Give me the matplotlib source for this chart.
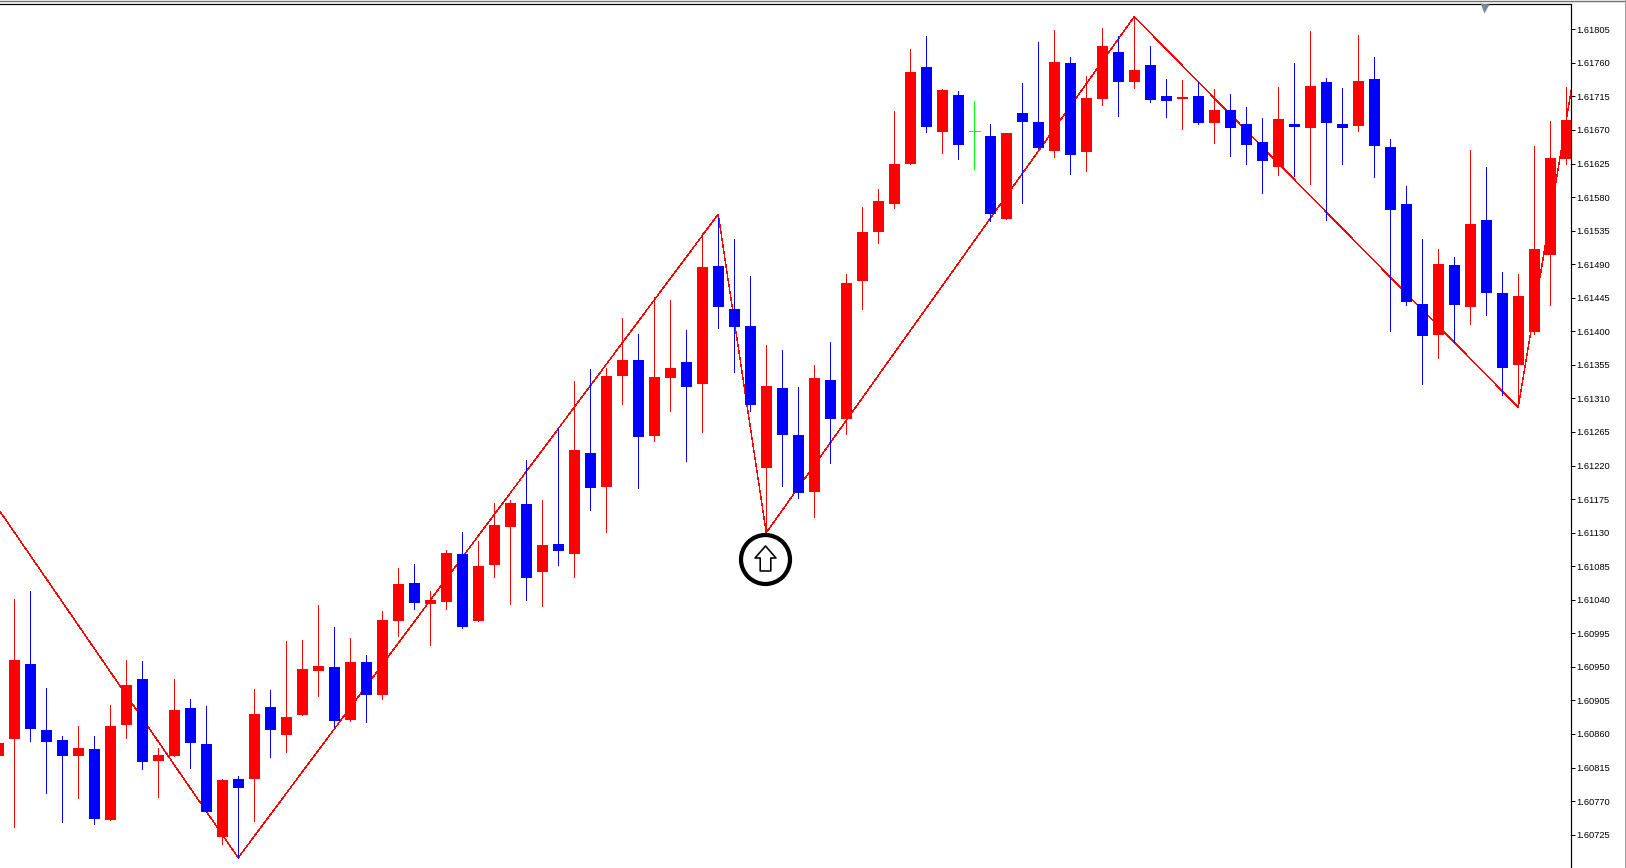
"""Biểu đồ nến kèm đường zigzag, giá đọc từ ảnh gốc."""

import matplotlib

matplotlib.use("Agg")
import matplotlib.pyplot as plt
from matplotlib.lines import Line2D
from matplotlib.path import Path

WIDTH, HEIGHT = 1626, 868

COLOURS = (
    "r" "rbbbrbrrbr" "rbbrbrbrrr" "brbrrbrrbr" "rrbrbrbrrb" "rrbrbbbrbb"
    "rbrrrrrbrb" "gbrbbrbrrb" "rbbrbrbbbr" "brbbrbbbbr" "brbbrrrr"
)

HIGHS = [
    1.60848, 1.61041, 1.61052, 1.60922, 1.60857, 1.60871, 1.60857, 1.60899, 1.60959, 1.60958,
    1.60841, 1.60934, 1.60907, 1.60898, 1.60800, 1.60804, 1.60920, 1.60919, 1.60985, 1.60986,
    1.61033, 1.61004, 1.60989, 1.60966, 1.61025, 1.61083, 1.61088, 1.61052, 1.61107, 1.61131,
    1.61119, 1.61170, 1.61174, 1.61227, 1.61174, 1.61270, 1.61333, 1.61349, 1.61351, 1.61418,
    1.61396, 1.61446, 1.61442, 1.61402, 1.61532, 1.61552, 1.61524, 1.61474, 1.61382, 1.61375,
    1.61325, 1.61355, 1.61386, 1.61477, 1.61567, 1.61591, 1.61695, 1.61779, 1.61796, 1.61725,
    1.61722, 1.61709, 1.61678, 1.61666, 1.61733, 1.61788, 1.61804, 1.61768, 1.61742, 1.61807,
    1.61796, 1.61822, 1.61783, 1.61738, 1.61737, 1.61734, 1.61725, 1.61718, 1.61701, 1.61686,
    1.61728, 1.61760, 1.61803, 1.61740, 1.61726, 1.61797, 1.61768, 1.61658, 1.61595, 1.61524,
    1.61510, 1.61500, 1.61643, 1.61620, 1.61479, 1.61477, 1.61648, 1.61682, 1.61728,
]
BODY_TOPS = [
    1.60848, 1.60959, 1.60954, 1.60865, 1.60852, 1.60841, 1.60840, 1.60871, 1.60926, 1.60934,
    1.60832, 1.60892, 1.60895, 1.60847, 1.60798, 1.60800, 1.60887, 1.60896, 1.60883, 1.60947,
    1.60951, 1.60950, 1.60957, 1.60957, 1.61013, 1.61061, 1.61063, 1.61040, 1.61103, 1.61101,
    1.61085, 1.61140, 1.61170, 1.61168, 1.61113, 1.61115, 1.61241, 1.61237, 1.61340, 1.61362,
    1.61362, 1.61339, 1.61351, 1.61359, 1.61486, 1.61488, 1.61430, 1.61407, 1.61327, 1.61324,
    1.61261, 1.61337, 1.61335, 1.61465, 1.61533, 1.61575, 1.61624, 1.61748, 1.61755, 1.61724,
    1.61717, 1.61668, 1.61662, 1.61666, 1.61693, 1.61681, 1.61761, 1.61760, 1.61713, 1.61783,
    1.61775, 1.61750, 1.61757, 1.61716, 1.61714, 1.61716, 1.61697, 1.61697, 1.61678, 1.61654,
    1.61685, 1.61678, 1.61729, 1.61734, 1.61678, 1.61736, 1.61738, 1.61647, 1.61571, 1.61437,
    1.61490, 1.61489, 1.61544, 1.61549, 1.61451, 1.61447, 1.61510, 1.61632, 1.61683,
]
BODY_BOTTOMS = [
    1.60831, 1.60853, 1.60867, 1.60849, 1.60831, 1.60831, 1.60746, 1.60745, 1.60872, 1.60822,
    1.60824, 1.60831, 1.60848, 1.60755, 1.60722, 1.60788, 1.60800, 1.60865, 1.60859, 1.60886,
    1.60945, 1.60877, 1.60879, 1.60912, 1.60912, 1.61012, 1.61036, 1.61034, 1.61037, 1.61004,
    1.61012, 1.61087, 1.61138, 1.61069, 1.61077, 1.61105, 1.61101, 1.61190, 1.61191, 1.61340,
    1.61258, 1.61260, 1.61337, 1.61325, 1.61329, 1.61433, 1.61406, 1.61301, 1.61217, 1.61261,
    1.61183, 1.61185, 1.61282, 1.61282, 1.61468, 1.61533, 1.61571, 1.61624, 1.61674, 1.61667,
    1.61650, 1.61668, 1.61557, 1.61551, 1.61681, 1.61646, 1.61642, 1.61636, 1.61641, 1.61712,
    1.61734, 1.61734, 1.61710, 1.61709, 1.61712, 1.61679, 1.61679, 1.61673, 1.61650, 1.61628,
    1.61620, 1.61674, 1.61673, 1.61679, 1.61673, 1.61675, 1.61649, 1.61563, 1.61439, 1.61394,
    1.61395, 1.61435, 1.61433, 1.61451, 1.61351, 1.61355, 1.61399, 1.61502, 1.61631,
]
LOWS = [
    1.60831, 1.60735, 1.60851, 1.60781, 1.60742, 1.60774, 1.60739, 1.60745, 1.60855, 1.60813,
    1.60776, 1.60831, 1.60814, 1.60755, 1.60713, 1.60694, 1.60743, 1.60829, 1.60836, 1.60886,
    1.60911, 1.60869, 1.60877, 1.60876, 1.60907, 1.60991, 1.61028, 1.60979, 1.61028, 1.61002,
    1.61012, 1.61071, 1.61034, 1.61040, 1.61032, 1.61087, 1.61071, 1.61160, 1.61131, 1.61303,
    1.61190, 1.61253, 1.61293, 1.61226, 1.61265, 1.61405, 1.61345, 1.61293, 1.61130, 1.61193,
    1.61177, 1.61151, 1.61223, 1.61262, 1.61430, 1.61518, 1.61565, 1.61624, 1.61667, 1.61639,
    1.61631, 1.61618, 1.61548, 1.61551, 1.61572, 1.61646, 1.61634, 1.61611, 1.61615, 1.61704,
    1.61689, 1.61726, 1.61708, 1.61687, 1.61671, 1.61678, 1.61653, 1.61635, 1.61624, 1.61586,
    1.61610, 1.61608, 1.61598, 1.61549, 1.61624, 1.61669, 1.61607, 1.61400, 1.61435, 1.61329,
    1.61364, 1.61386, 1.61410, 1.61422, 1.61315, 1.61298, 1.61396, 1.61435, 1.61624,
]

# các đỉnh và đáy của zigzag, theo số thứ tự nến
ZIGZAG_BARS = [0, 15, 45, 48, 71, 95, 99]
ZIGZAG_PRICES = [1.61162, 1.60694, 1.61557, 1.61130, 1.61822, 1.61298, 1.61812]

PRICE_TICKS = [
    "1.61805", "1.61760", "1.61715", "1.61670", "1.61625", "1.61580", "1.61535", "1.61490", "1.61445",
    "1.61400", "1.61355", "1.61310", "1.61265", "1.61220", "1.61175", "1.61130", "1.61085", "1.61040",
    "1.60995", "1.60950", "1.60905", "1.60860", "1.60815", "1.60770", "1.60725",
]

COLOUR_MAP = {"r": "#ff0000", "b": "#0000ff", "g": "#00ff00"}
PX = 0.72  # một pixel tính theo point ở dpi 100

# mũi tên rỗng trong vòng tròn, tọa độ theo pixel quanh tâm
ARROW = Path(
    [(0, 12.5), (10.5, 0.5), (5.3, 0.5), (5.3, -12.5), (-5.3, -12.5), (-5.3, 0.5), (-10.5, 0.5), (0, 12.5)],
    closed=True,
)


def main():
    fig = plt.figure(figsize=(WIDTH / 100, HEIGHT / 100), dpi=100)
    ax = fig.add_axes([0, 0, 1571 / WIDTH, 1 - 3.5 / HEIGHT])

    colours = [COLOUR_MAP[c] for c in COLOURS]
    bars = list(range(len(COLOURS)))

    ax.plot(ZIGZAG_BARS, ZIGZAG_PRICES, color="#ff0000", lw=PX * 0.35, antialiased=False, zorder=1)
    ax.vlines(bars, LOWS, HIGHS, colors=colours, lw=PX * 0.9, antialiased=False, zorder=2)

    for bar, top, bottom, colour in zip(bars, BODY_TOPS, BODY_BOTTOMS, colours):
        if top == bottom:
            ax.hlines(top, bar - 0.34, bar + 0.34, colors=colour, lw=PX * 0.9, antialiased=False, zorder=3)
        else:
            ax.bar(bar, top - bottom, bottom=bottom, width=0.69, color=colour, lw=0, antialiased=False, zorder=3)

    ax.set_xlim(0.1125, 98.2985)
    ax.set_ylim(1.606803, 1.618396)

    ax.set_xticks([])
    ax.yaxis.tick_right()
    ax.set_yticks([float(t) for t in PRICE_TICKS], PRICE_TICKS, family="Liberation Sans", fontsize=6.7)
    ax.tick_params(axis="y", length=3, width=PX, pad=1.0, colors="black")
    for side in ("left", "bottom"):
        ax.spines[side].set_visible(False)
    for side in ("top", "right"):
        ax.spines[side].set_linewidth(PX * 1.2)

    # vòng tròn đánh dấu đáy
    ax.plot([47.9], [1.61095], marker="o", ms=49 * PX, mfc="white", mec="black", mew=4.2 * PX,
            ls="none", zorder=5, clip_on=False)
    ax.plot([47.95], [1.61096], marker=ARROW, ms=25 * PX, mfc="white", mec="black", mew=1.6 * PX,
            ls="none", zorder=6)

    # tam giác xám ở mép trên và viền cửa sổ
    ax.plot([0.9445], [0.9945], marker="v", ms=9 * PX, mfc="#778899", mec="none", ls="none",
            transform=ax.transAxes, clip_on=False, zorder=6)
    fig.add_artist(Line2D([0, 1], [1 - 0.7 / HEIGHT] * 2, color="#707070", lw=1.4 * PX))
    fig.add_artist(Line2D([1 - 1.5 / WIDTH] * 2, [0, 1], color="#a0a0a0", lw=PX))

    fig.savefig("out.png", dpi=100)
    plt.close(fig)


if __name__ == "__main__":
    main()
